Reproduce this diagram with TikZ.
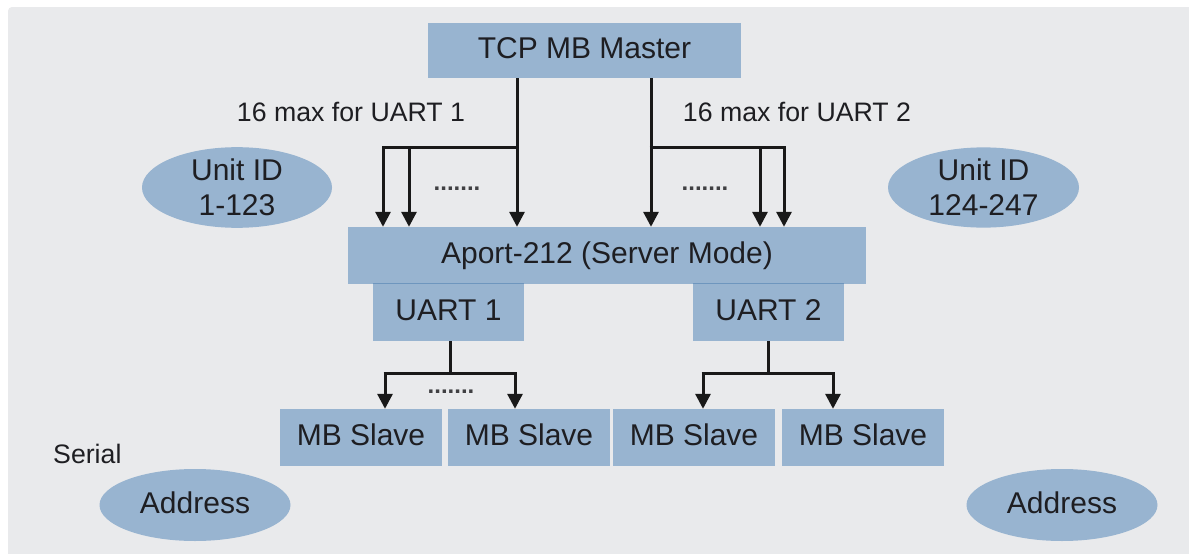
\documentclass[tikz,border=0pt]{standalone}
\usepackage{fontspec}
\setmainfont{Liberation Sans}
\usetikzlibrary{arrows.meta,shapes.geometric}
\definecolor{bgc}{RGB}{233,234,236}
\definecolor{boxc}{RGB}{152,180,208}
\definecolor{edgec}{RGB}{110,150,190}
\definecolor{txtc}{RGB}{30,30,34}
\tikzset{
  box/.style={fill=boxc, inner sep=0pt, text=txtc, text height=22pt, text depth=6pt, font=\fontsize{30}{35}\selectfont},
  oval/.style={ellipse, fill=boxc, inner sep=0pt, text=txtc, align=center, font=\fontsize{30}{35}\selectfont},
  lbl/.style={text=txtc, inner sep=0pt, font=\fontsize{26.7}{32}\selectfont},
  conn/.style={line width=3pt, draw=black!90, line cap=butt, line join=miter},
  arr/.style={conn, -{Triangle[width=15pt,length=15pt]}},
  dotsl/.style={text=txtc!85, inner sep=0pt, font=\fontsize{24}{30}\selectfont\bfseries}
}
\begin{document}
\begin{tikzpicture}[x=1pt,y=-1pt]
\useasboundingbox (0,0) rectangle (1189,554);
\fill[white] (0,0) rectangle (1189,554);
\fill[bgc,rounded corners=4pt] (8,7) rectangle (1200,570);

% main boxes
\node[box, minimum width=313pt, minimum height=55pt] (master) at (584.5,50.5) {TCP MB Master};
\node[box, minimum width=518pt, minimum height=57pt] (aport) at (607,255.5) {Aport-212 (Server Mode)};
\node[box, minimum width=151pt, minimum height=57pt] (uart1) at (448.5,312.5) {UART 1};
\node[box, minimum width=151pt, minimum height=57pt] (uart2) at (768.5,312.5) {UART 2};
\draw[edgec, line width=1pt] (uart1.north west) -- (uart1.north east);
\draw[edgec, line width=1pt] (uart2.north west) -- (uart2.north east);

\node[box, minimum width=162pt, minimum height=57pt] (s1) at (361,437.5) {MB Slave};
\node[box, minimum width=162pt, minimum height=57pt] (s2) at (529,437.5) {MB Slave};
\node[box, minimum width=162pt, minimum height=57pt] (s3) at (694,437.5) {MB Slave};
\node[box, minimum width=162pt, minimum height=57pt] (s4) at (863,437.5) {MB Slave};

% ellipses
\node[oval, minimum width=190pt, minimum height=80pt] (uid1) at (237,187.5) {Unit ID\\1-123};
\node[oval, minimum width=191pt, minimum height=80pt] (uid2) at (983.5,187.5) {Unit ID\\124-247};
\node[oval, text height=22pt, text depth=6pt, minimum width=191pt, minimum height=72pt] (addr1) at (195,505) {Address};
\node[oval, text height=22pt, text depth=6pt, minimum width=191pt, minimum height=72pt] (addr2) at (1062,505) {Address};

% labels
\node[lbl] (lab1) at (351,112) {16 max for UART 1};
\node[lbl] (lab2) at (797,112) {16 max for UART 2};
\node[lbl, anchor=west] (serial) at (53,454) {Serial};

% dots
\node[dotsl] (d1) at (457,189) {.......};
\node[dotsl] (d2) at (705,189) {.......};
\node[dotsl] (d3) at (451,392) {.......};

% upper left connectors
\coordinate (jL) at (517,147);
\coordinate (jL1) at (383,147);
\coordinate (jL2) at (409,147);
\draw[arr] (master.south -| jL) -- (aport.north -| jL);
\draw[conn] (jL) -- ([xshift=-1.5pt]jL1);
\draw[arr] ([yshift=-1.5pt]jL1) -- (aport.north -| jL1);
\draw[arr] (jL2) -- (aport.north -| jL2);

% upper right connectors
\coordinate (jR) at (651,147);
\coordinate (jR1) at (760,147);
\coordinate (jR2) at (784,147);
\draw[arr] (master.south -| jR) -- (aport.north -| jR);
\draw[conn] ([xshift=-1.5pt]jR) -- ([xshift=1.5pt]jR2);
\draw[arr] (jR1) -- (aport.north -| jR1);
\draw[arr] ([yshift=-1.5pt]jR2) -- (aport.north -| jR2);

% lower left
\coordinate (k1) at (450,373);
\coordinate (k1a) at (385,373);
\coordinate (k1b) at (515,373);
\draw[conn] (uart1.south -| k1) -- (k1);
\draw[conn] ([xshift=-1.5pt]k1a) -- ([xshift=1.5pt]k1b);
\draw[arr] ([yshift=-1.5pt]k1a) -- (s1.north -| k1a);
\draw[arr] ([yshift=-1.5pt]k1b) -- (s2.north -| k1b);

% lower right
\coordinate (k2) at (768,373);
\coordinate (k2a) at (703,373);
\coordinate (k2b) at (833,373);
\draw[conn] (uart2.south -| k2) -- (k2);
\draw[conn] ([xshift=-1.5pt]k2a) -- ([xshift=1.5pt]k2b);
\draw[arr] ([yshift=-1.5pt]k2a) -- (s3.north -| k2a);
\draw[arr] ([yshift=-1.5pt]k2b) -- (s4.north -| k2b);
\end{tikzpicture}
\end{document}
